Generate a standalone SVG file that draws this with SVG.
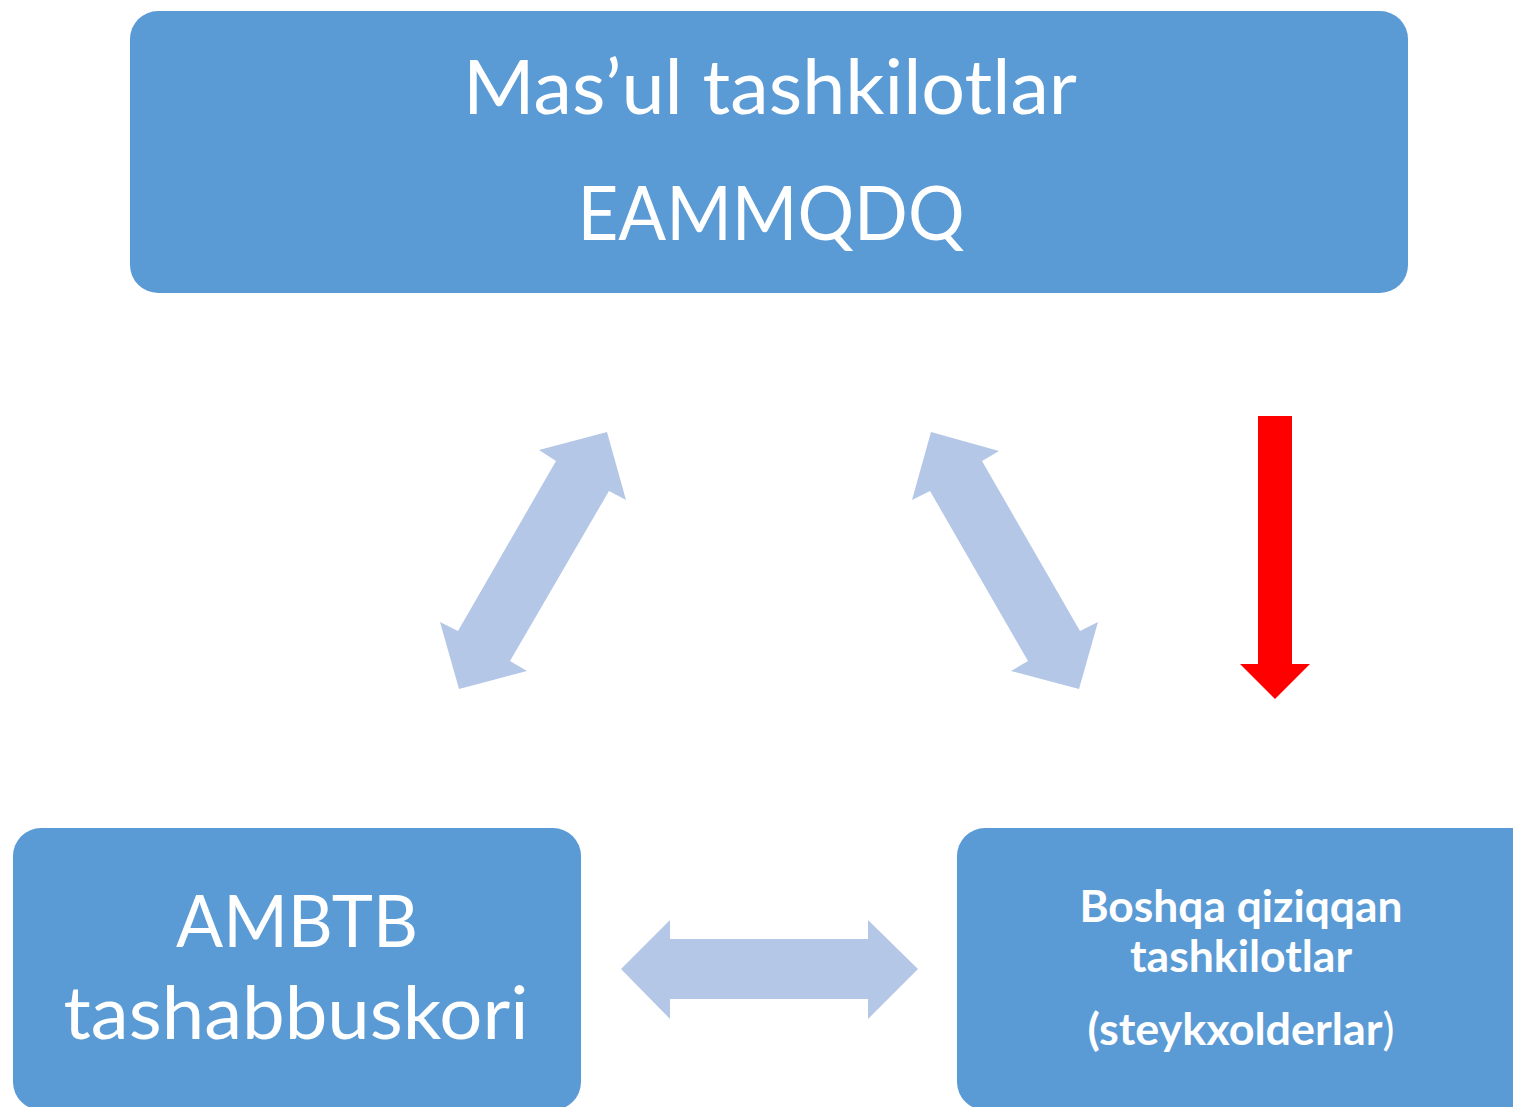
<svg xmlns="http://www.w3.org/2000/svg" width="1513" height="1107" viewBox="0 0 1513 1107">
<style>
.box{fill:#5B9BD5}
.t{fill:#FFFFFF;font-family:Lato,"Open Sans","Liberation Sans",sans-serif;text-anchor:middle}
.b{font-weight:bold}
.ar{fill:#B4C7E7}
.red{fill:#FF0000}
</style>
<rect width="1513" height="1107" fill="#FFFFFF"/>
<g id="node-top">
<rect class="box" x="130" y="11" width="1278" height="282" rx="28"/>
<text class="t" x="770" y="114" font-size="76" textLength="614" lengthAdjust="spacingAndGlyphs">Mas’ul tashkilotlar</text>
<text class="t" x="771" y="240" font-size="76" textLength="387" lengthAdjust="spacingAndGlyphs">EAMMQDQ</text>
</g>
<g id="node-left">
<rect class="box" x="13" y="828" width="568" height="282" rx="28"/>
<text class="t" x="297" y="947" font-size="72" textLength="242" lengthAdjust="spacingAndGlyphs">AMBTB</text>
<text class="t" x="296" y="1039" font-size="74" textLength="465" lengthAdjust="spacingAndGlyphs">tashabbuskori</text>
</g>
<g id="node-right">
<rect class="box" x="957" y="828" width="600" height="282" rx="28"/>
<text class="t b" x="1241" y="922" font-size="44" textLength="323" lengthAdjust="spacingAndGlyphs">Boshqa qiziqqan</text>
<text class="t b" x="1241" y="972" font-size="44" textLength="222" lengthAdjust="spacingAndGlyphs">tashkilotlar</text>
<text class="t" x="1241" y="1045" font-size="44" textLength="307" lengthAdjust="spacingAndGlyphs"><tspan font-weight="bold">(steykxolderlar</tspan>)</text>
</g>
<g id="connectors">
<polygon class="ar" points="607,432 539,450 556,461 458,631 440,622 459,689 527,671 510,661 609,491 626,500"/>
<polygon class="ar" points="931,432 999,451 982,461 1080,631 1098,622 1079,689 1011,671 1028,661 930,491 912,500"/>
<polygon class="ar" points="621,969 670,920 670,939 868,939 868,920 918,969 868,1019 868,999 670,999 670,1019"/>
<polygon class="red" points="1258,416 1292,416 1292,664 1310,664 1275,699 1240,664 1258,664"/>
</g>
</svg>
